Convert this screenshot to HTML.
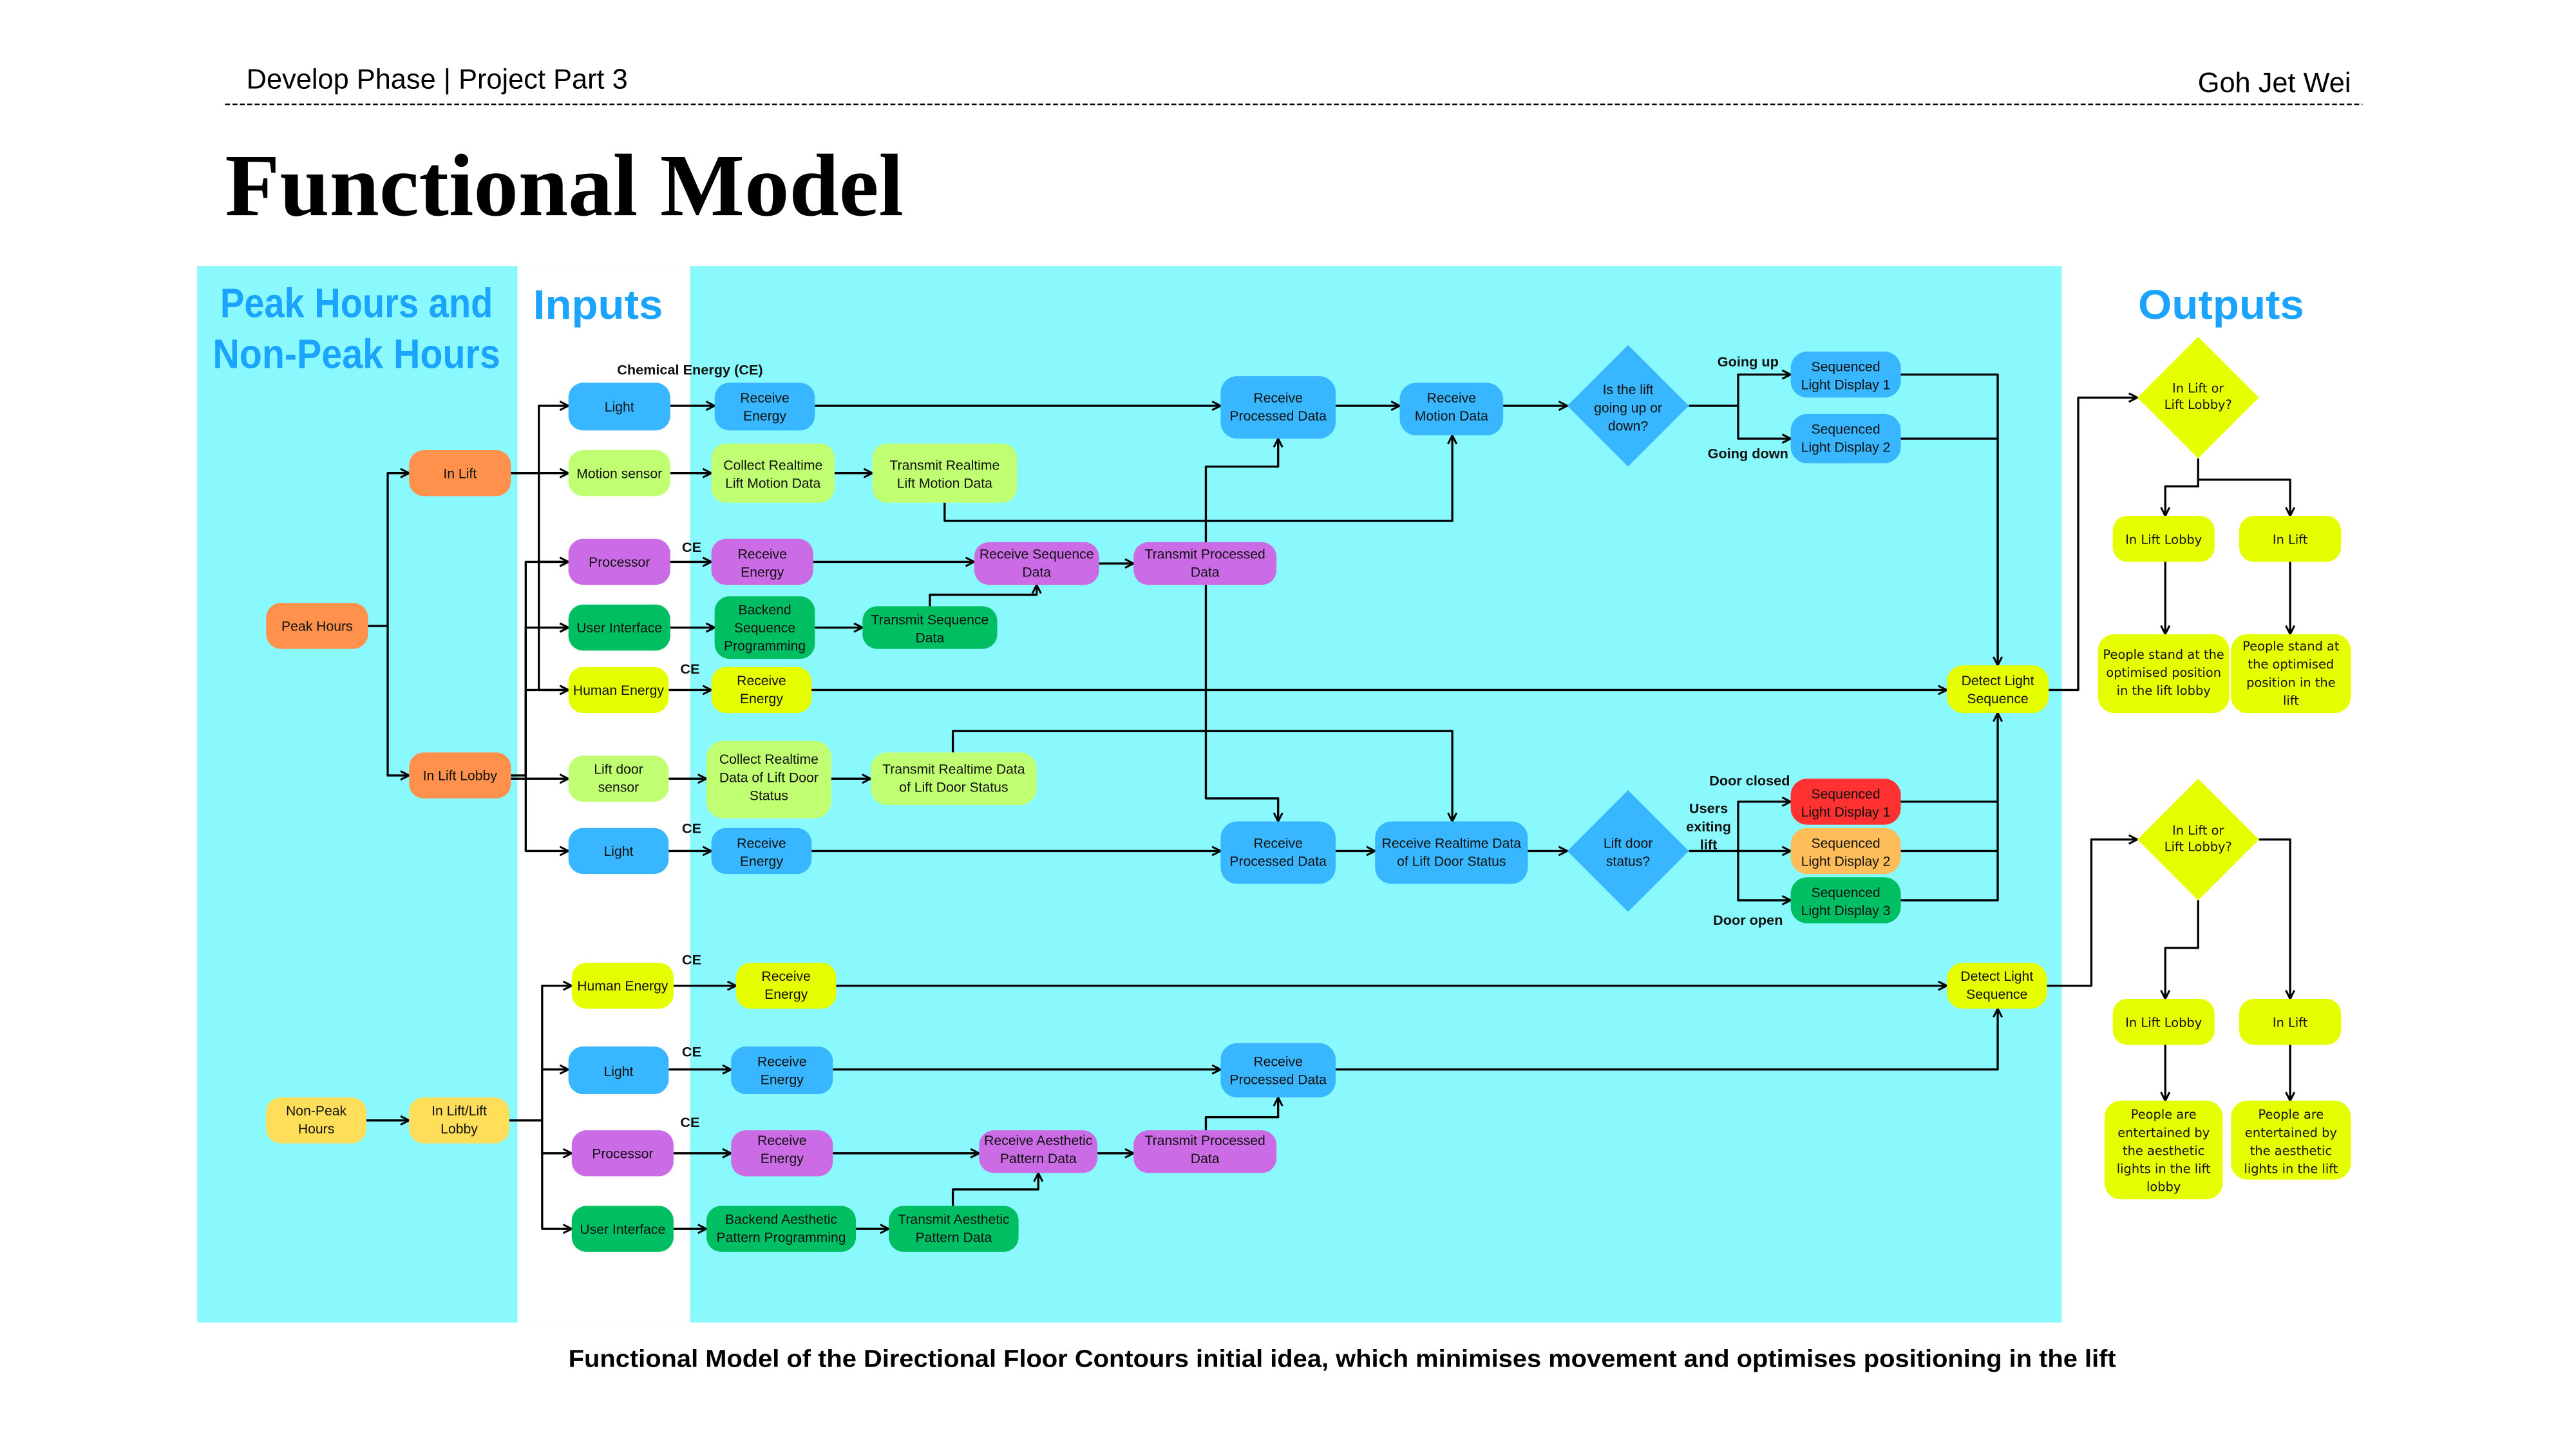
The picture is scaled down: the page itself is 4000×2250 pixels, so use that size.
<!DOCTYPE html>
<html><head><meta charset="utf-8"><style>
html,body{margin:0;padding:0;background:#fff;width:4000px;height:2250px;overflow:hidden}
svg{display:block}
.n{font-family:"Liberation Sans Narrow","Liberation Sans",sans-serif;font-size:8.3px;fill:#111;text-anchor:middle}
.o{font-family:"DejaVu Sans","Liberation Sans",sans-serif;font-size:7.6px;fill:#111;text-anchor:middle}
.b{font-family:"Liberation Sans Narrow","Liberation Sans",sans-serif;font-size:8.5px;font-weight:bold;fill:#111;text-anchor:middle}
.h{font-family:"Liberation Sans Narrow","Liberation Sans",sans-serif;font-weight:bold;fill:#1aa3ff;font-size:25px;text-anchor:middle}
path.c{fill:none;stroke:#000;stroke-width:1.3;stroke-linejoin:round}
</style></head><body>
<svg width="4000" height="2250" viewBox="0 0 1568 882" xmlns="http://www.w3.org/2000/svg">
<defs><marker id="a" viewBox="0 0 10 10" refX="9" refY="5" markerWidth="5" markerHeight="5" orient="auto"><path d="M1,1 L9,5 L1,9" fill="none" stroke="#000" stroke-width="1.8"/></marker></defs>
<rect x="0" y="0" width="1568" height="882" fill="#fff"/>
<rect x="120" y="162" width="1135" height="643" fill="#8af9fe"/>
<rect x="315" y="162" width="105" height="643" fill="#fff"/>

<text x="150" y="54" font-family="Liberation Sans Narrow,Liberation Sans,sans-serif" font-size="17" fill="#000">Develop Phase | Project Part 3</text>
<text x="1431" y="56" font-family="Liberation Sans Narrow,Liberation Sans,sans-serif" font-size="17" fill="#000" text-anchor="end">Goh Jet Wei</text>
<line x1="137" y1="63.5" x2="1438" y2="63.5" stroke="#000" stroke-width="1" stroke-dasharray="3,1.5"/>
<text x="137" y="131" font-family="Liberation Serif,serif" font-weight="bold" font-size="54" textLength="413" lengthAdjust="spacingAndGlyphs" fill="#000">Functional Model</text>
<text x="817" y="832" font-family="Liberation Sans Narrow,Liberation Sans,sans-serif" font-weight="bold" font-size="15" text-anchor="middle" textLength="942" lengthAdjust="spacingAndGlyphs" fill="#000">Functional Model of the Directional Floor Contours initial idea, which minimises movement and optimises positioning in the lift</text>

<text class="h" x="217" y="193" textLength="166" lengthAdjust="spacingAndGlyphs">Peak Hours and</text>
<text class="h" x="217" y="224" textLength="175" lengthAdjust="spacingAndGlyphs">Non-Peak Hours</text>
<text class="h" x="364" y="194" textLength="79" lengthAdjust="spacingAndGlyphs">Inputs</text>
<text class="h" x="1352" y="194" textLength="101" lengthAdjust="spacingAndGlyphs">Outputs</text>

<text class="b" x="420" y="228">Chemical Energy (CE)</text>
<text class="b" x="421" y="336">CE</text>
<text class="b" x="420" y="410">CE</text>
<text class="b" x="421" y="507">CE</text>
<text class="b" x="421" y="587">CE</text>
<text class="b" x="421" y="643">CE</text>
<text class="b" x="420" y="686">CE</text>
<text class="b" x="1064" y="223">Going up</text>
<text class="b" x="1064" y="279">Going down</text>
<text class="b" x="1065" y="478">Door closed</text>
<text class="b" x="1040" y="495">Users</text>
<text class="b" x="1040" y="506">exiting</text>
<text class="b" x="1040" y="517">lift</text>
<text class="b" x="1064" y="563">Door open</text>

<g>
<path class="c" marker-end="url(#a)" d="M224,381 H236 V288 H249"/>
<path class="c" marker-end="url(#a)" d="M236,381 V472 H249"/>
<path class="c" marker-end="url(#a)" d="M311,288 H328 V247 H346"/>
<path class="c" marker-end="url(#a)" d="M311,288 H346"/>
<path class="c" marker-end="url(#a)" d="M328,288 V342 H346"/>
<path class="c" marker-end="url(#a)" d="M328,288 V382 H346"/>
<path class="c" marker-end="url(#a)" d="M328,288 V420 H346"/>
<path class="c" marker-end="url(#a)" d="M311,472 H320 V342 H346"/>
<path class="c" marker-end="url(#a)" d="M320,472 V382 H346"/>
<path class="c" marker-end="url(#a)" d="M320,472 V420 H346"/>
<path class="c" marker-end="url(#a)" d="M311,474 H346"/>
<path class="c" marker-end="url(#a)" d="M320,472 V518 H346"/>
<path class="c" marker-end="url(#a)" d="M408,247 H435"/>
<path class="c" marker-end="url(#a)" d="M496,247 H743"/>
<path class="c" marker-end="url(#a)" d="M813,247 H852"/>
<path class="c" marker-end="url(#a)" d="M915,247 H954"/>
<path class="c" marker-end="url(#a)" d="M1028,247 H1058 V228 H1090"/>
<path class="c" marker-end="url(#a)" d="M1058,247 V267 H1090"/>
<path class="c" d="M1157,228 H1216 V400"/>
<path class="c" marker-end="url(#a)" d="M1157,267 H1216 V405"/>
<path class="c" marker-end="url(#a)" d="M408,288 H433"/>
<path class="c" marker-end="url(#a)" d="M508,288 H531"/>
<path class="c" marker-end="url(#a)" d="M575,306 V317 H884 V265"/>
<path class="c" marker-end="url(#a)" d="M408,342 H433"/>
<path class="c" marker-end="url(#a)" d="M495,342 H593"/>
<path class="c" marker-end="url(#a)" d="M669,343 H690"/>
<path class="c" marker-end="url(#a)" d="M734,343 V284 H778 V267"/>
<path class="c" marker-end="url(#a)" d="M734,343 V486 H778 V500"/>
<path class="c" marker-end="url(#a)" d="M408,382 H435"/>
<path class="c" marker-end="url(#a)" d="M496,382 H525"/>
<path class="c" marker-end="url(#a)" d="M566,369 V362 H631 V356"/>
<path class="c" marker-end="url(#a)" d="M407,420 H433"/>
<path class="c" marker-end="url(#a)" d="M494,420 H1185"/>
<path class="c" marker-end="url(#a)" d="M407,474 H430"/>
<path class="c" marker-end="url(#a)" d="M506,474 H530"/>
<path class="c" marker-end="url(#a)" d="M580,458 V445 H884 V500"/>
<path class="c" marker-end="url(#a)" d="M407,518 H433"/>
<path class="c" marker-end="url(#a)" d="M494,518 H743"/>
<path class="c" marker-end="url(#a)" d="M813,518 H837"/>
<path class="c" marker-end="url(#a)" d="M930,518 H954"/>
<path class="c" marker-end="url(#a)" d="M1028,518 H1058 V488 H1090"/>
<path class="c" marker-end="url(#a)" d="M1058,518 H1090"/>
<path class="c" marker-end="url(#a)" d="M1058,518 V548 H1090"/>
<path class="c" d="M1157,488 H1216"/>
<path class="c" d="M1157,518 H1216"/>
<path class="c" marker-end="url(#a)" d="M1157,548 H1216 V434"/>
<path class="c" marker-end="url(#a)" d="M1247,420 H1265 V242 H1301"/>
<path class="c" marker-end="url(#a)" d="M1338,279 V296 H1318 V314"/>
<path class="c" marker-end="url(#a)" d="M1338,292 H1394 V314"/>
<path class="c" marker-end="url(#a)" d="M1318,342 V386"/>
<path class="c" marker-end="url(#a)" d="M1394,342 V386"/>
<path class="c" marker-end="url(#a)" d="M1246,600 H1273 V511 H1301"/>
<path class="c" marker-end="url(#a)" d="M1338,548 V577 H1318 V608"/>
<path class="c" marker-end="url(#a)" d="M1375,511 H1394 V608"/>
<path class="c" marker-end="url(#a)" d="M1318,636 V670"/>
<path class="c" marker-end="url(#a)" d="M1394,636 V670"/>
<path class="c" marker-end="url(#a)" d="M223,682 H249"/>
<path class="c" marker-end="url(#a)" d="M310,682 H330 V600 H348"/>
<path class="c" marker-end="url(#a)" d="M330,682 V651 H346"/>
<path class="c" marker-end="url(#a)" d="M330,682 V702 H348"/>
<path class="c" marker-end="url(#a)" d="M330,682 V748 H348"/>
<path class="c" marker-end="url(#a)" d="M410,600 H448"/>
<path class="c" marker-end="url(#a)" d="M509,600 H1185"/>
<path class="c" marker-end="url(#a)" d="M407,651 H445"/>
<path class="c" marker-end="url(#a)" d="M507,651 H743"/>
<path class="c" marker-end="url(#a)" d="M813,651 H1216 V614"/>
<path class="c" marker-end="url(#a)" d="M410,702 H445"/>
<path class="c" marker-end="url(#a)" d="M507,702 H596"/>
<path class="c" marker-end="url(#a)" d="M668,702 H690"/>
<path class="c" marker-end="url(#a)" d="M734,688 V680 H778 V668"/>
<path class="c" marker-end="url(#a)" d="M410,748 H430"/>
<path class="c" marker-end="url(#a)" d="M521,748 H541"/>
<path class="c" marker-end="url(#a)" d="M580,734 V724 H632 V714"/>
</g>

<g>
<rect x="346" y="233" width="62" height="29" rx="9" fill="#38b6ff"/><text class="n" x="377" y="250.5">Light</text>
<rect x="435" y="233" width="61" height="29" rx="9" fill="#38b6ff"/><text class="n" x="465.5" y="245">Receive</text><text class="n" x="465.5" y="256">Energy</text>
<rect x="743" y="229" width="70" height="38" rx="10" fill="#38b6ff"/><text class="n" x="778" y="245">Receive</text><text class="n" x="778" y="256">Processed Data</text>
<rect x="852" y="233" width="63" height="32" rx="10" fill="#38b6ff"/><text class="n" x="883.5" y="245">Receive</text><text class="n" x="883.5" y="256">Motion Data</text>
<polygon points="991,210 1028,247 991,284 954,247" fill="#38b6ff"/><text class="n" x="991" y="240">Is the lift</text><text class="n" x="991" y="251">going up or</text><text class="n" x="991" y="262">down?</text>
<rect x="1090" y="214" width="67" height="28" rx="10" fill="#38b6ff"/><text class="n" x="1123.5" y="226">Sequenced</text><text class="n" x="1123.5" y="237">Light Display 1</text>
<rect x="1090" y="252" width="67" height="30" rx="10" fill="#38b6ff"/><text class="n" x="1123.5" y="264">Sequenced</text><text class="n" x="1123.5" y="275">Light Display 2</text>

<rect x="249" y="274" width="62" height="28" rx="9" fill="#ff914d"/><text class="n" x="280" y="291">In Lift</text>
<rect x="346" y="274" width="62" height="28" rx="9" fill="#c1ff72"/><text class="n" x="377" y="291">Motion sensor</text>
<rect x="433" y="270" width="75" height="36" rx="9" fill="#c1ff72"/><text class="n" x="470.5" y="286">Collect Realtime</text><text class="n" x="470.5" y="297">Lift Motion Data</text>
<rect x="531" y="270" width="88" height="36" rx="9" fill="#c1ff72"/><text class="n" x="575" y="286">Transmit Realtime</text><text class="n" x="575" y="297">Lift Motion Data</text>

<rect x="346" y="328" width="62" height="28" rx="9" fill="#cb6ce6"/><text class="n" x="377" y="345">Processor</text>
<rect x="433" y="328" width="62" height="28" rx="9" fill="#cb6ce6"/><text class="n" x="464" y="340">Receive</text><text class="n" x="464" y="351">Energy</text>
<rect x="593" y="330" width="76" height="26" rx="9" fill="#cb6ce6"/><text class="n" x="631" y="340">Receive Sequence</text><text class="n" x="631" y="351">Data</text>
<rect x="690" y="330" width="87" height="26" rx="9" fill="#cb6ce6"/><text class="n" x="733.5" y="340">Transmit Processed</text><text class="n" x="733.5" y="351">Data</text>

<rect x="162" y="367" width="62" height="28" rx="9" fill="#ff914d"/><text class="n" x="193" y="384">Peak Hours</text>
<rect x="346" y="368" width="62" height="28" rx="9" fill="#00bf63"/><text class="n" x="377" y="385">User Interface</text>
<rect x="435" y="363" width="61" height="38" rx="9" fill="#00bf63"/><text class="n" x="465.5" y="374">Backend</text><text class="n" x="465.5" y="385">Sequence</text><text class="n" x="465.5" y="396">Programming</text>
<rect x="525" y="369" width="82" height="26" rx="9" fill="#00bf63"/><text class="n" x="566" y="380">Transmit Sequence</text><text class="n" x="566" y="391">Data</text>

<rect x="346" y="406" width="61" height="28" rx="9" fill="#e6ff00"/><text class="n" x="376.5" y="423">Human Energy</text>
<rect x="433" y="406" width="61" height="28" rx="9" fill="#e6ff00"/><text class="n" x="463.5" y="417">Receive</text><text class="n" x="463.5" y="428">Energy</text>
<rect x="1185" y="405" width="62" height="29" rx="10" fill="#e6ff00"/><text class="n" x="1216" y="417">Detect Light</text><text class="n" x="1216" y="428">Sequence</text>

<rect x="249" y="458" width="62" height="28" rx="9" fill="#ff914d"/><text class="n" x="280" y="475">In Lift Lobby</text>
<rect x="346" y="460" width="61" height="28" rx="9" fill="#c1ff72"/><text class="n" x="376.5" y="471">Lift door</text><text class="n" x="376.5" y="482">sensor</text>
<rect x="430" y="451" width="76" height="47" rx="10" fill="#c1ff72"/><text class="n" x="468" y="465">Collect Realtime</text><text class="n" x="468" y="476">Data of Lift Door</text><text class="n" x="468" y="487">Status</text>
<rect x="530" y="458" width="101" height="32" rx="10" fill="#c1ff72"/><text class="n" x="580.5" y="471">Transmit Realtime Data</text><text class="n" x="580.5" y="482">of Lift Door Status</text>

<rect x="346" y="504" width="61" height="28" rx="9" fill="#38b6ff"/><text class="n" x="376.5" y="521">Light</text>
<rect x="433" y="504" width="61" height="28" rx="9" fill="#38b6ff"/><text class="n" x="463.5" y="516">Receive</text><text class="n" x="463.5" y="527">Energy</text>
<rect x="743" y="500" width="70" height="38" rx="10" fill="#38b6ff"/><text class="n" x="778" y="516">Receive</text><text class="n" x="778" y="527">Processed Data</text>
<rect x="837" y="500" width="93" height="38" rx="10" fill="#38b6ff"/><text class="n" x="883.5" y="516">Receive Realtime Data</text><text class="n" x="883.5" y="527">of Lift Door Status</text>
<polygon points="991,481 1028,518 991,555 954,518" fill="#38b6ff"/><text class="n" x="991" y="516">Lift door</text><text class="n" x="991" y="527">status?</text>
<rect x="1090" y="474" width="67" height="28" rx="10" fill="#ff3131"/><text class="n" x="1123.5" y="486">Sequenced</text><text class="n" x="1123.5" y="497">Light Display 1</text>
<rect x="1090" y="504" width="67" height="28" rx="10" fill="#ffbd59"/><text class="n" x="1123.5" y="516">Sequenced</text><text class="n" x="1123.5" y="527">Light Display 2</text>
<rect x="1090" y="534" width="67" height="28" rx="10" fill="#00bf63"/><text class="n" x="1123.5" y="546">Sequenced</text><text class="n" x="1123.5" y="557">Light Display 3</text>

<rect x="348" y="586" width="62" height="28" rx="9" fill="#e6ff00"/><text class="n" x="379" y="603">Human Energy</text>
<rect x="448" y="586" width="61" height="28" rx="9" fill="#e6ff00"/><text class="n" x="478.5" y="597">Receive</text><text class="n" x="478.5" y="608">Energy</text>
<rect x="1185" y="586" width="61" height="28" rx="10" fill="#e6ff00"/><text class="n" x="1215.5" y="597">Detect Light</text><text class="n" x="1215.5" y="608">Sequence</text>
<rect x="346" y="637" width="61" height="29" rx="9" fill="#38b6ff"/><text class="n" x="376.5" y="655">Light</text>
<rect x="445" y="637" width="62" height="29" rx="9" fill="#38b6ff"/><text class="n" x="476" y="649">Receive</text><text class="n" x="476" y="660">Energy</text>
<rect x="743" y="635" width="70" height="33" rx="10" fill="#38b6ff"/><text class="n" x="778" y="649">Receive</text><text class="n" x="778" y="660">Processed Data</text>
<rect x="162" y="668" width="61" height="28" rx="9" fill="#ffde59"/><text class="n" x="192.5" y="679">Non-Peak</text><text class="n" x="192.5" y="690">Hours</text>
<rect x="249" y="668" width="61" height="28" rx="9" fill="#ffde59"/><text class="n" x="279.5" y="679">In Lift/Lift</text><text class="n" x="279.5" y="690">Lobby</text>
<rect x="348" y="688" width="62" height="28" rx="9" fill="#cb6ce6"/><text class="n" x="379" y="705">Processor</text>
<rect x="445" y="688" width="62" height="28" rx="9" fill="#cb6ce6"/><text class="n" x="476" y="697">Receive</text><text class="n" x="476" y="708">Energy</text>
<rect x="596" y="688" width="72" height="26" rx="9" fill="#cb6ce6"/><text class="n" x="632" y="697">Receive Aesthetic</text><text class="n" x="632" y="708">Pattern Data</text>
<rect x="690" y="688" width="87" height="26" rx="9" fill="#cb6ce6"/><text class="n" x="733.5" y="697">Transmit Processed</text><text class="n" x="733.5" y="708">Data</text>
<rect x="348" y="734" width="62" height="28" rx="9" fill="#00bf63"/><text class="n" x="379" y="751">User Interface</text>
<rect x="430" y="734" width="91" height="28" rx="9" fill="#00bf63"/><text class="n" x="475.5" y="745">Backend Aesthetic</text><text class="n" x="475.5" y="756">Pattern Programming</text>
<rect x="541" y="734" width="79" height="28" rx="9" fill="#00bf63"/><text class="n" x="580.5" y="745">Transmit Aesthetic</text><text class="n" x="580.5" y="756">Pattern Data</text>

<polygon points="1338,205 1375,242 1338,279 1301,242" fill="#e6ff00"/><text class="o" x="1338" y="239">In Lift or</text><text class="o" x="1338" y="249">Lift Lobby?</text>
<rect x="1286" y="314" width="62" height="28" rx="9" fill="#e6ff00"/><text class="o" x="1317" y="331">In Lift Lobby</text>
<rect x="1363" y="314" width="62" height="28" rx="9" fill="#e6ff00"/><text class="o" x="1394" y="331">In Lift</text>
<rect x="1277" y="386" width="80" height="48" rx="10" fill="#e6ff00"/><text class="o" x="1317" y="401">People stand at the</text><text class="o" x="1317" y="412">optimised position</text><text class="o" x="1317" y="423">in the lift lobby</text>
<rect x="1358" y="386" width="73" height="48" rx="10" fill="#e6ff00"/><text class="o" x="1394.5" y="396">People stand at</text><text class="o" x="1394.5" y="407">the optimised</text><text class="o" x="1394.5" y="418">position in the</text><text class="o" x="1394.5" y="429">lift</text>
<polygon points="1338,474 1375,511 1338,548 1301,511" fill="#e6ff00"/><text class="o" x="1338" y="508">In Lift or</text><text class="o" x="1338" y="518">Lift Lobby?</text>
<rect x="1286" y="608" width="62" height="28" rx="9" fill="#e6ff00"/><text class="o" x="1317" y="625">In Lift Lobby</text>
<rect x="1363" y="608" width="62" height="28" rx="9" fill="#e6ff00"/><text class="o" x="1394" y="625">In Lift</text>
<rect x="1281" y="670" width="72" height="60" rx="10" fill="#e6ff00"/><text class="o" x="1317" y="681">People are</text><text class="o" x="1317" y="692">entertained by</text><text class="o" x="1317" y="703">the aesthetic</text><text class="o" x="1317" y="714">lights in the lift</text><text class="o" x="1317" y="725">lobby</text>
<rect x="1358" y="670" width="73" height="48" rx="10" fill="#e6ff00"/><text class="o" x="1394.5" y="681">People are</text><text class="o" x="1394.5" y="692">entertained by</text><text class="o" x="1394.5" y="703">the aesthetic</text><text class="o" x="1394.5" y="714">lights in the lift</text>
</g>
</svg>
</body></html>
